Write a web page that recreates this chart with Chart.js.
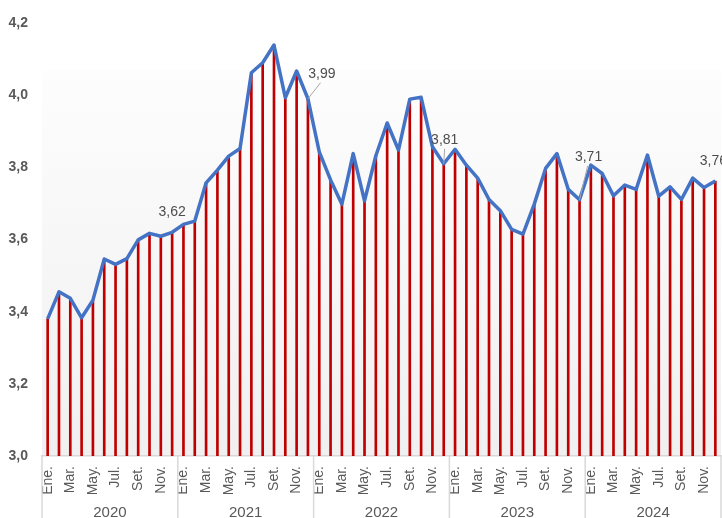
<!DOCTYPE html>
<html>
<head>
<meta charset="utf-8">
<script src="https://cdn.jsdelivr.net/npm/chart.js@4"></script>
<style>
  html, body { margin: 0; padding: 0; background: #fff; }
  #wrap { width: 722px; height: 518px; }
</style>
</head>
<body>
<div id="wrap"><canvas id="chart" width="722" height="518"></canvas></div>
<script>
// --- DATA ---
const months = ['Ene.','Feb.','Mar.','Abr.','May.','Jun.','Jul.','Ago.','Set.','Oct.','Nov.','Dic.'];
const years = ['2020','2021','2022','2023','2024'];
const values2020 = [3.380, 3.455, 3.437, 3.383, 3.432, 3.546, 3.531, 3.547, 3.599, 3.617, 3.609, 3.620];
const values2021 = [3.642, 3.651, 3.757, 3.792, 3.831, 3.852, 4.062, 4.090, 4.139, 3.993, 4.067, 3.990];
const values2022 = [3.843, 3.765, 3.698, 3.838, 3.707, 3.832, 3.923, 3.848, 3.989, 3.994, 3.857, 3.810];
const values2023 = [3.850, 3.806, 3.770, 3.711, 3.680, 3.628, 3.615, 3.698, 3.797, 3.838, 3.739, 3.710];
const values2024 = [3.806, 3.783, 3.721, 3.751, 3.739, 3.834, 3.720, 3.746, 3.711, 3.770, 3.744, 3.762];
const yMin = 3.0, yMax = 4.2, yStep = 0.2;
const labelledIdx = [11, 23, 35, 47, 59]; // december of each year

const values = [].concat(values2020, values2021, values2022, values2023, values2024);
const labels = [];
years.forEach(y => months.forEach(m => labels.push(m)));

const grey = '#595959';
const font = '"Liberation Sans", Arial, sans-serif';
const fmt = (v, d) => v.toFixed(d).replace('.', ',');

// label placement (dx, dy from the point; leader line if lead)
const labelPos = {
  11: { dx: 0,  dy: -20, lead: false },
  23: { dx: 14, dy: -25, lead: true },
  35: { dx: 1,  dy: -24, lead: true },
  47: { dx: 9,  dy: -43, lead: true },
  59: { dx: -2, dy: -20, lead: false }
};

// plot background gradient
const bgPlugin = {
  id: 'bg',
  beforeDraw(chart) {
    const { ctx, chartArea: a } = chart;
    const top = a.top + 47;
    const g = ctx.createLinearGradient(0, top, 0, a.bottom);
    g.addColorStop(0, '#fdfdfd');
    g.addColorStop(1, '#f0f0f0');
    ctx.save();
    ctx.fillStyle = g;
    ctx.fillRect(a.left, top, a.right - a.left, a.bottom - top);
    ctx.restore();
  }
};

// month labels (every other month, rotated), year labels and separators
const axisPlugin = {
  id: 'axisLabels',
  afterDraw(chart) {
    const { ctx, chartArea: a, scales: { x } } = chart;
    const step = (x.getPixelForValue(1) - x.getPixelForValue(0));
    ctx.save();
    ctx.fillStyle = grey;

    ctx.font = '14px ' + font;
    ctx.textAlign = 'right';
    ctx.textBaseline = 'middle';
    labels.forEach((lab, i) => {
      if (i % 2) return;
      ctx.save();
      ctx.translate(x.getPixelForValue(i), a.bottom + 10);
      ctx.rotate(-Math.PI / 2);
      ctx.fillText(lab, 0, 0);
      ctx.restore();
    });

    ctx.strokeStyle = '#d9d9d9';
    ctx.lineWidth = 1.5;
    ctx.font = '15px ' + font;
    ctx.textAlign = 'center';
    years.forEach((yr, i) => {
      const x0 = x.getPixelForValue(i * 12) - step / 2;
      const x1 = x.getPixelForValue(i * 12 + 11) + step / 2;
      ctx.beginPath();
      ctx.moveTo(x0, a.bottom); ctx.lineTo(x0, chart.height);
      if (i === years.length - 1) { ctx.moveTo(x1, a.bottom); ctx.lineTo(x1, chart.height); }
      ctx.stroke();
      ctx.fillText(yr, (x0 + x1) / 2, a.bottom + 57);
    });
    ctx.restore();
  }
};

// value labels at each december
const valueLabelPlugin = {
  id: 'valueLabels',
  afterDatasetsDraw(chart) {
    const { ctx } = chart;
    const meta = chart.getDatasetMeta(1);
    ctx.save();
    ctx.font = '14px ' + font;
    ctx.fillStyle = '#4d4d4d';
    ctx.textAlign = 'center';
    ctx.textBaseline = 'middle';
    labelledIdx.forEach(i => {
      const p = meta.data[i];
      const o = labelPos[i];
      const tx = p.x + o.dx, ty = p.y + o.dy;
      if (o.lead) {
        ctx.strokeStyle = '#a6a6a6';
        ctx.lineWidth = 1;
        ctx.beginPath();
        ctx.moveTo(p.x, p.y);
        ctx.lineTo(tx - o.dx * 0.1, ty + 9);
        ctx.stroke();
      }
      ctx.fillText(fmt(values[i], 2), tx, ty);
    });
    ctx.restore();
  }
};

new Chart(document.getElementById('chart'), {
  data: {
    labels,
    datasets: [
      {
        type: 'bar',
        data: values,
        backgroundColor: '#c00000',
        barThickness: 2,
        order: 2
      },
      {
        type: 'line',
        data: values,
        borderColor: '#4472c4',
        borderWidth: 3.5,
        borderJoinStyle: 'round',
        pointRadius: 0,
        tension: 0,
        order: 1
      }
    ]
  },
  options: {
    responsive: false,
    animation: false,
    layout: { padding: { top: 23, right: 1, bottom: 0, left: 0 } },
    plugins: { legend: { display: false }, tooltip: { enabled: false } },
    scales: {
      x: {
        offset: true,
        grid: { display: false, drawTicks: false },
        border: { display: true, color: '#d9d9d9', width: 1.5 },
        ticks: { display: false },
        afterFit: s => { s.height = 62; s.paddingLeft = 0; s.paddingRight = 0; }
      },
      y: {
        min: yMin,
        max: yMax,
        grid: { display: false, drawTicks: false },
        border: { display: false },
        ticks: {
          stepSize: yStep,
          padding: 14,
          color: grey,
          font: { size: 14, weight: 'bold', family: font },
          callback: v => fmt(v, 1)
        },
        afterFit: s => { s.width = 42; }
      }
    }
  },
  plugins: [bgPlugin, axisPlugin, valueLabelPlugin]
});
</script>
</body>
</html>
